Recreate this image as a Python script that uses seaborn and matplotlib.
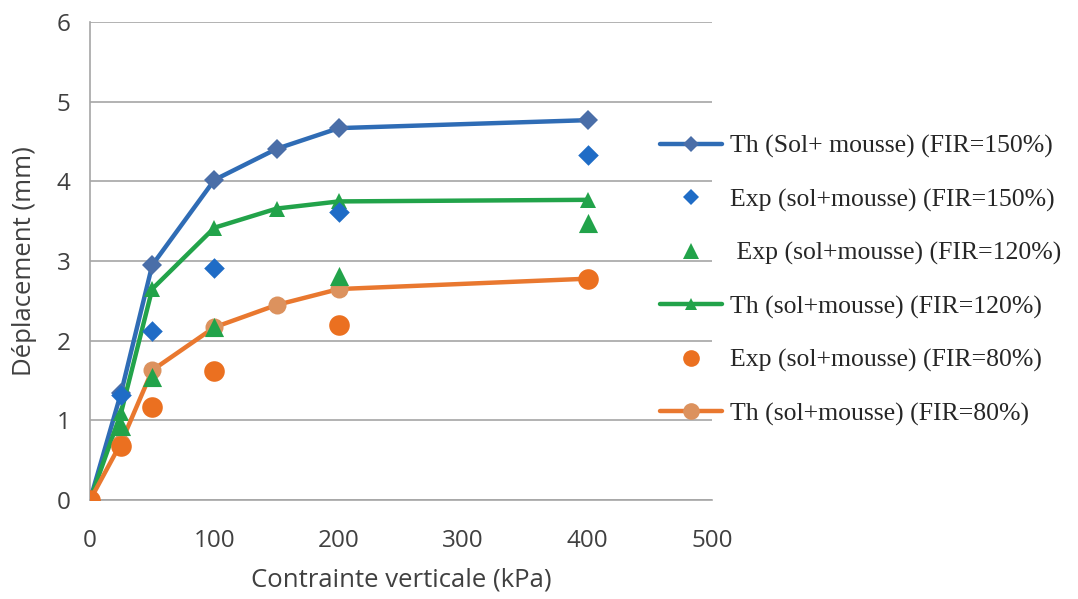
import matplotlib
matplotlib.use("Agg")
import matplotlib.pyplot as plt
from matplotlib.lines import Line2D
import seaborn as sns

# Vertical stress (kPa)
stress_th = [0, 25, 50, 100, 150, 200, 400]
stress_exp = [0, 25, 50, 100, 200, 400]

# Theoretical curves (mm)
th_150 = [0, 1.35, 2.95, 4.02, 4.41, 4.67, 4.77]
th_120 = [0, 1.10, 2.65, 3.42, 3.66, 3.75, 3.77]
th_80 = [0, 0.72, 1.63, 2.17, 2.45, 2.65, 2.78]

# Experimental points (mm)
exp_150 = [0, 1.32, 2.12, 2.92, 3.62, 4.33]
exp_120 = [0, 0.93, 1.54, 2.17, 2.81, 3.48]
exp_80 = [0, 0.68, 1.17, 1.62, 2.20, 2.78]

labels = ["Th (Sol+ mousse) (FIR=150%)",
          "Exp (sol+mousse) (FIR=150%)",
          " Exp (sol+mousse) (FIR=120%)",
          "Th (sol+mousse) (FIR=120%)",
          "Exp (sol+mousse) (FIR=80%)",
          "Th (sol+mousse) (FIR=80%)"]

blue_line, blue_mk, blue_exp = "#2f6cb5", "#4a6ea8", "#1f6cc6"
green = "#22a34a"
orange_line, orange_mk, orange_exp = "#e9782f", "#dc925e", "#eb7020"

sns.set_style("white")
plt.rcParams['font.family'] = ['Open Sans', 'DejaVu Sans']

fig = plt.figure(figsize=(10.78, 5.99), dpi=100)
ax = fig.add_axes([0.0835, 0.165, 0.577, 0.798])

grid_c = "#a6a6a6"

# Theoretical lines
sns.lineplot(x=stress_th, y=th_150, ax=ax, color=blue_line, linewidth=3.2,
             marker="D", markersize=10, markerfacecolor=blue_mk,
             markeredgewidth=0, legend=False, zorder=3)
sns.lineplot(x=stress_th, y=th_120, ax=ax, color=green, linewidth=3.2,
             marker="^", markersize=12, markerfacecolor=green,
             markeredgewidth=0, legend=False, zorder=3)
sns.lineplot(x=stress_th, y=th_80, ax=ax, color=orange_line, linewidth=3.2,
             marker="o", markersize=13, markerfacecolor=orange_mk,
             markeredgewidth=0, legend=False, zorder=3)

# Experimental points
sns.scatterplot(x=stress_exp, y=exp_150, ax=ax, color=blue_exp, marker="D",
                s=110, linewidth=0, legend=False, zorder=4)
sns.scatterplot(x=stress_exp, y=exp_120, ax=ax, color=green, marker="^",
                s=190, linewidth=0, legend=False, zorder=4)
sns.scatterplot(x=stress_exp, y=exp_80, ax=ax, color=orange_exp, marker="o",
                s=220, linewidth=0, legend=False, zorder=4)

ax.set_xlim(0, 500)
ax.set_ylim(0, 6)
ax.set_xticks([0, 100, 200, 300, 400, 500])
ax.set_yticks([0, 1, 2, 3, 4, 5, 6])
ax.grid(axis="y", color=grid_c, linewidth=1.2)
ax.set_axisbelow(True)
for side in ["top", "right"]:
    ax.spines[side].set_visible(False)
for side in ["left", "bottom"]:
    ax.spines[side].set_color(grid_c)
    ax.spines[side].set_linewidth(1.2)
ax.tick_params(axis="x", direction="out", length=7, width=1.2, color=grid_c,
               labelsize=17.5, pad=14, labelcolor="#404040")
ax.tick_params(axis="y", length=0, labelsize=17.5, pad=14, labelcolor="#404040")
for lab in ax.get_xticklabels() + ax.get_yticklabels():
    lab.set_clip_on(False)

ax.set_xlabel("Contrainte verticale (kPa)", fontsize=18.5, color="#404040", labelpad=10)
ax.set_ylabel("Déplacement (mm)", fontsize=18.5, color="#404040")
ax.yaxis.set_label_coords(-0.086, 0.5)

# legend proxies in the reference order
handles = [
    Line2D([], [], color=blue_line, lw=3.2, marker="D", ms=8,
           mfc=blue_mk, mew=0),
    Line2D([], [], ls="", marker="D", ms=8.5, color=blue_exp, mew=0),
    Line2D([], [], ls="", marker="^", ms=11, color=green, mew=0),
    Line2D([], [], color=green, lw=3.2, marker="^", ms=9, mfc=green, mew=0),
    Line2D([], [], ls="", marker="o", ms=12, color=orange_exp, mew=0),
    Line2D([], [], color=orange_line, lw=3.2, marker="o", ms=12,
           mfc=orange_mk, mew=0),
]
fig.legend(handles, labels, loc="upper left", bbox_to_anchor=(0.596, 0.805),
           frameon=False, labelspacing=1.17, handlelength=2.4,
           handletextpad=0.3, borderpad=0.2,
           prop={"family": "Liberation Serif", "size": 18.5})

fig.savefig("out.png", dpi=100)
